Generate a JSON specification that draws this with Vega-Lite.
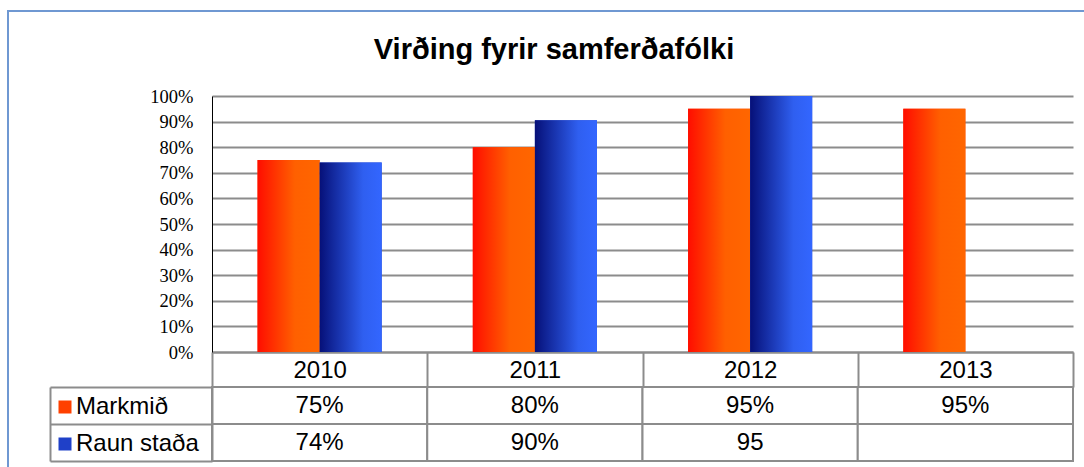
{
  "$schema": "https://vega.github.io/schema/vega-lite/v6.json",
  "autosize": "none",
  "width": 1078,
  "height": 458,
  "padding": {"left": 8, "top": 11, "right": -2, "bottom": -2},
  "background": "white",
  "title": {
    "text": "Virðing fyrir samferðafólki",
    "font": "Liberation Sans",
    "fontSize": 29,
    "fontWeight": "bold",
    "color": "black",
    "anchor": "middle",
    "frame": "group",
    "baseline": "alphabetic",
    "offset": 0,
    "dx": 7,
    "dy": 77
  },
  "config": {
    "view": {"stroke": "#6f98d2", "strokeWidth": 2},
    "axis": {"labelColor": "black", "title": null}
  },
  "data": {
    "values": [
      {"year": "2010", "series": "Markmið", "value": 0.75, "label": "75%"},
      {"year": "2010", "series": "Raun staða", "value": 0.74, "label": "74%"},
      {"year": "2011", "series": "Markmið", "value": 0.8, "label": "80%"},
      {"year": "2011", "series": "Raun staða", "value": 0.905, "label": "90%"},
      {"year": "2012", "series": "Markmið", "value": 0.95, "label": "95%"},
      {"year": "2012", "series": "Raun staða", "value": 95, "label": "95"},
      {"year": "2013", "series": "Markmið", "value": 0.95, "label": "95%"},
      {"year": "2013", "series": "Raun staða", "value": null, "label": ""}
    ]
  },
  "encoding": {
    "x": {
      "field": "year",
      "type": "nominal",
      "scale": {"range": [204, 1065], "paddingInner": 0, "paddingOuter": 0},
      "axis": {
        "orient": "bottom",
        "offset": -117,
        "labelAngle": 0,
        "domainColor": "#8c8c8c",
        "domainWidth": 2,
        "ticks": true,
        "tickBand": "extent",
        "tickSize": 35,
        "tickColor": "#8c8c8c",
        "tickWidth": 2,
        "labelFont": "Liberation Sans",
        "labelFontSize": 24,
        "labelBaseline": "middle",
        "labelPadding": -17,
        "grid": false,
        "title": null
      }
    }
  },
  "layer": [
    {
      "encoding": {
        "xOffset": {
          "field": "series",
          "type": "nominal",
          "scale": {"domain": ["Markmið", "Raun staða"], "paddingInner": 0, "paddingOuter": 0.734}
        },
        "y": {
          "field": "value",
          "type": "quantitative",
          "scale": {"domain": [0, 1], "range": [341, 85], "clamp": true, "nice": false},
          "axis": {
            "orient": "left",
            "offset": -204,
            "format": ".0%",
            "tickCount": 10,
            "domainColor": "black",
            "domainWidth": 1,
            "ticks": false,
            "grid": true,
            "gridColor": "#8c8c8c",
            "gridWidth": 2,
            "labelFont": "Liberation Serif",
            "labelFontSize": 18.5,
            "labelPadding": 19,
            "title": null
          }
        }
      },
      "layer": [
        {
          "mark": {"type": "bar"},
          "encoding": {
            "fill": {
              "field": "series",
              "type": "nominal",
              "scale": {"domain": ["Markmið", "Raun staða"], "range": ["#ff4000", "#1f40c8"]},
              "legend": {
                "orient": "none",
                "legendX": 45,
                "legendY": 384,
                "title": null,
                "symbolType": "square",
                "symbolSize": 169,
                "symbolStrokeWidth": 0,
                "labelFont": "Liberation Sans",
                "labelFontSize": 24,
                "labelColor": "black",
                "labelOffset": -1,
                "labelLimit": 0,
                "rowPadding": 13,
                "padding": 0,
                "encode": {
                  "symbols": {
                    "update": {
                      "fill": [
                        {"test": "datum.value === 'Markmið'", "value": {"gradient": "linear", "x1": 0, "y1": 0, "x2": 1, "y2": 0, "stops": [{"offset": 0, "color": "#ff0d00"}, {"offset": 1, "color": "#ff6600"}]}},
                        {"value": {"gradient": "linear", "x1": 0, "y1": 0, "x2": 1, "y2": 0, "stops": [{"offset": 0, "color": "#061078"}, {"offset": 1, "color": "#3366ff"}]}}
                      ]
                    }
                  }
                }
              }
            }
          }
        },
        {
          "mark": {"type": "bar"},
          "encoding": {
            "fill": {
              "condition": {"test": "datum.series === 'Markmið'", "value": {"gradient": "linear", "x1": 0, "y1": 0, "x2": 1, "y2": 0, "stops": [{"offset": 0, "color": "#ff0d00"}, {"offset": 0.6, "color": "#ff6000"}, {"offset": 1, "color": "#ff6600"}]}},
              "value": {"gradient": "linear", "x1": 0, "y1": 0, "x2": 1, "y2": 0, "stops": [{"offset": 0, "color": "#061078"}, {"offset": 0.7, "color": "#2f5ff0"}, {"offset": 1, "color": "#3366ff"}]}
            }
          }
        }
      ]
    },
    {
      "mark": {"type": "rect", "fill": "white", "stroke": "#8c8c8c", "strokeWidth": 2},
      "encoding": {
        "y": {
          "field": "series",
          "type": "nominal",
          "scale": {"type": "band", "domain": ["Markmið", "Raun staða"], "range": [376, 450], "paddingInner": 0, "paddingOuter": 0},
          "axis": {
            "orient": "left",
            "offset": -204,
            "domainColor": "#8c8c8c",
            "domainWidth": 2,
            "ticks": true,
            "tickBand": "extent",
            "tickSize": 162,
            "tickColor": "#8c8c8c",
            "tickWidth": 2,
            "labels": false,
            "grid": false,
            "title": null
          }
        }
      }
    },
    {
      "mark": {"type": "text", "font": "Liberation Sans", "fontSize": 24, "color": "black", "baseline": "middle", "align": "center"},
      "encoding": {
        "y": {
          "field": "series",
          "type": "nominal",
          "scale": {"type": "band", "domain": ["Markmið", "Raun staða"], "range": [376, 450], "paddingInner": 0, "paddingOuter": 0},
          "axis": {
            "orient": "left",
            "offset": -42,
            "domainColor": "#8c8c8c",
            "domainWidth": 2,
            "ticks": false,
            "labels": false,
            "grid": false,
            "title": null
          }
        },
        "text": {"field": "label", "type": "nominal"}
      }
    }
  ],
  "resolve": {"scale": {"y": "independent"}, "axis": {"y": "independent"}}
}
